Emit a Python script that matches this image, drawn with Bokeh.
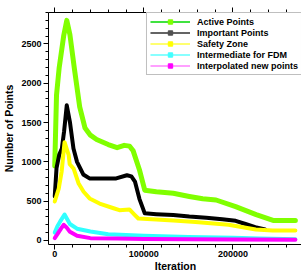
import math
from bokeh.plotting import figure
from bokeh.models import (LinearAxis, SingleIntervalTicker, Range1d, Legend, LegendItem,
                          ColumnDataSource, BasicTickFormatter, CustomJSTickFormatter)
from bokeh.embed import file_html
from bokeh.resources import INLINE

# ---- data ----
active_x = [0, 2000, 5000, 10000, 13500, 17000, 22000, 28000, 34000, 40000, 47000,
            60000, 70000, 78000, 84000, 88000, 95000, 101000, 114000, 133000, 151000,
            166000, 181000, 203000, 226000, 245000, 270000]
active_y = [950, 1850, 2200, 2600, 2800, 2620, 2190, 1700, 1430, 1340, 1285,
            1220, 1180, 1210, 1200, 1140, 900, 640, 620, 600, 560,
            530, 515, 430, 330, 255, 255]

important_x = [0, 2000, 5000, 8000, 10500, 13500, 17000, 21000, 25000, 32000, 39000,
               69000, 81000, 86000, 90000, 95000, 101000, 114000, 133000, 151000,
               170000, 188000, 203000, 214000, 225000, 236000]
important_y = [560, 920, 1090, 1170, 1390, 1720, 1510, 1170, 1000, 840, 790,
               790, 830, 815, 750, 530, 345, 335, 325, 305,
               290, 270, 250, 210, 170, 140]

safety_x = [0, 4500, 7800, 11000, 15600, 16800, 21200, 26800, 32400, 39100, 50300,
            66000, 72600, 83800, 89400, 93800, 114000, 133000, 158000, 195000,
            225600, 244600, 270000]
safety_y = [496, 660, 880, 1250, 1090, 970, 915, 725, 620, 535, 470,
            410, 385, 395, 330, 280, 268, 255, 235, 200,
            140, 127, 127]

fdm_x = [0, 3000, 6000, 11000, 14000, 17000, 25000, 40000, 60000, 100000, 150000,
         200000, 230000, 270000]
fdm_y = [100, 180, 240, 330, 270, 210, 150, 115, 80, 60, 45, 35, 25, 15]

interp_x = [0, 3000, 7000, 10000, 13000, 17000, 25000, 40000, 70000, 100000, 150000,
            200000, 270000]
interp_y = [30, 80, 150, 200, 170, 110, 60, 30, 25, 20, 15, 12, 8]

series_names = ["Active Points", "Important Points", "Safety Zone",
                "Intermediate for FDM", "Interpolated new points"]

# ---- figure ----
p = figure(frame_width=254, frame_height=232, output_backend="svg", toolbar_location=None,
           x_range=Range1d(-7000, 278000), y_range=Range1d(-51, 2900),
           min_border_left=0, min_border_right=0, min_border_top=12, min_border_bottom=0,
           x_axis_label="Iteration", y_axis_label="Number of Points")
p.outline_line_color = None
p.xgrid.visible = False
p.ygrid.visible = False
p.background_fill_color = "white"

FONT = "Liberation Sans"

p.xaxis.ticker = SingleIntervalTicker(interval=100000, num_minor_ticks=5)
p.yaxis.ticker = SingleIntervalTicker(interval=500, num_minor_ticks=5)
p.xaxis.formatter = BasicTickFormatter(use_scientific=False)
for ax in (p.xaxis[0], p.yaxis[0]):
    ax.major_label_text_font = FONT
    ax.major_label_text_font_style = "bold"
    ax.major_label_text_font_size = "9px"
    ax.major_label_text_color = "black"
    ax.axis_label_text_font = FONT
    ax.axis_label_text_font_style = "bold"
    ax.axis_label_text_font_size = "10.5px"
    ax.axis_label_text_color = "black"
    ax.major_tick_in = 0
    ax.major_tick_out = 5
    ax.minor_tick_in = 0
    ax.minor_tick_out = 3
    ax.axis_line_color = "black"
    ax.major_tick_line_color = "black"
    ax.minor_tick_line_color = "black"
p.yaxis.major_label_standoff = 2
p.yaxis.axis_label_standoff = 3
p.xaxis.major_label_standoff = 1
p.xaxis.axis_label_standoff = 0

blank = CustomJSTickFormatter(code="return '';")
top = LinearAxis(ticker=SingleIntervalTicker(interval=100000, num_minor_ticks=5),
                 formatter=blank, major_label_standoff=0,
                 major_tick_in=0, major_tick_out=5, minor_tick_in=0, minor_tick_out=3)
right = LinearAxis(ticker=SingleIntervalTicker(interval=500, num_minor_ticks=5),
                   formatter=blank, major_label_standoff=0,
                   major_tick_in=0, major_tick_out=5, minor_tick_in=0, minor_tick_out=3)
p.add_layout(top, "above")
p.add_layout(right, "right")

# thick data lines
data = [(active_x, active_y, "#80ff00", 5),
        (important_x, important_y, "#000000", 4),
        (safety_x, safety_y, "#ffff00", 4),
        (fdm_x, fdm_y, "#30ffff", 4),
        (interp_x, interp_y, "#ff00ff", 4)]
for xs, ys, col, w in data:
    p.line(xs, ys, line_color=col, line_width=w, line_join="round", line_cap="round")

# legend glyphs (thin line + small square marker)
legend_line_cols = ["#00d800", "#303030", "#ffff40", "#60ffff", "#ff80ff"]
legend_mark_cols = ["#80ff00", "#505050", "#ffff00", "#40ffff", "#ff00ff"]
items = []
for name, lc, mc in zip(series_names, legend_line_cols, legend_mark_cols):
    src = ColumnDataSource(data=dict(x=[math.nan], y=[math.nan]))
    r1 = p.line("x", "y", source=src, line_color=lc, line_width=1.5)
    r2 = p.scatter("x", "y", source=src, marker="square", size=3.5,
                   fill_color=mc, line_color=mc)
    items.append(LegendItem(label=name, renderers=[r1, r2]))

legend = Legend(items=items, location="top_right", margin=0, padding=3, spacing=0,
                glyph_width=40, glyph_height=11, label_height=11, label_standoff=7,
                label_text_font=FONT, label_text_font_style="bold",
                label_text_font_size="9px", label_text_color="black",
                border_line_color="#808080", border_line_width=1,
                background_fill_color="white", background_fill_alpha=1.0)
p.add_layout(legend, "center")

open("out.html", "w").write(file_html(p, INLINE))
